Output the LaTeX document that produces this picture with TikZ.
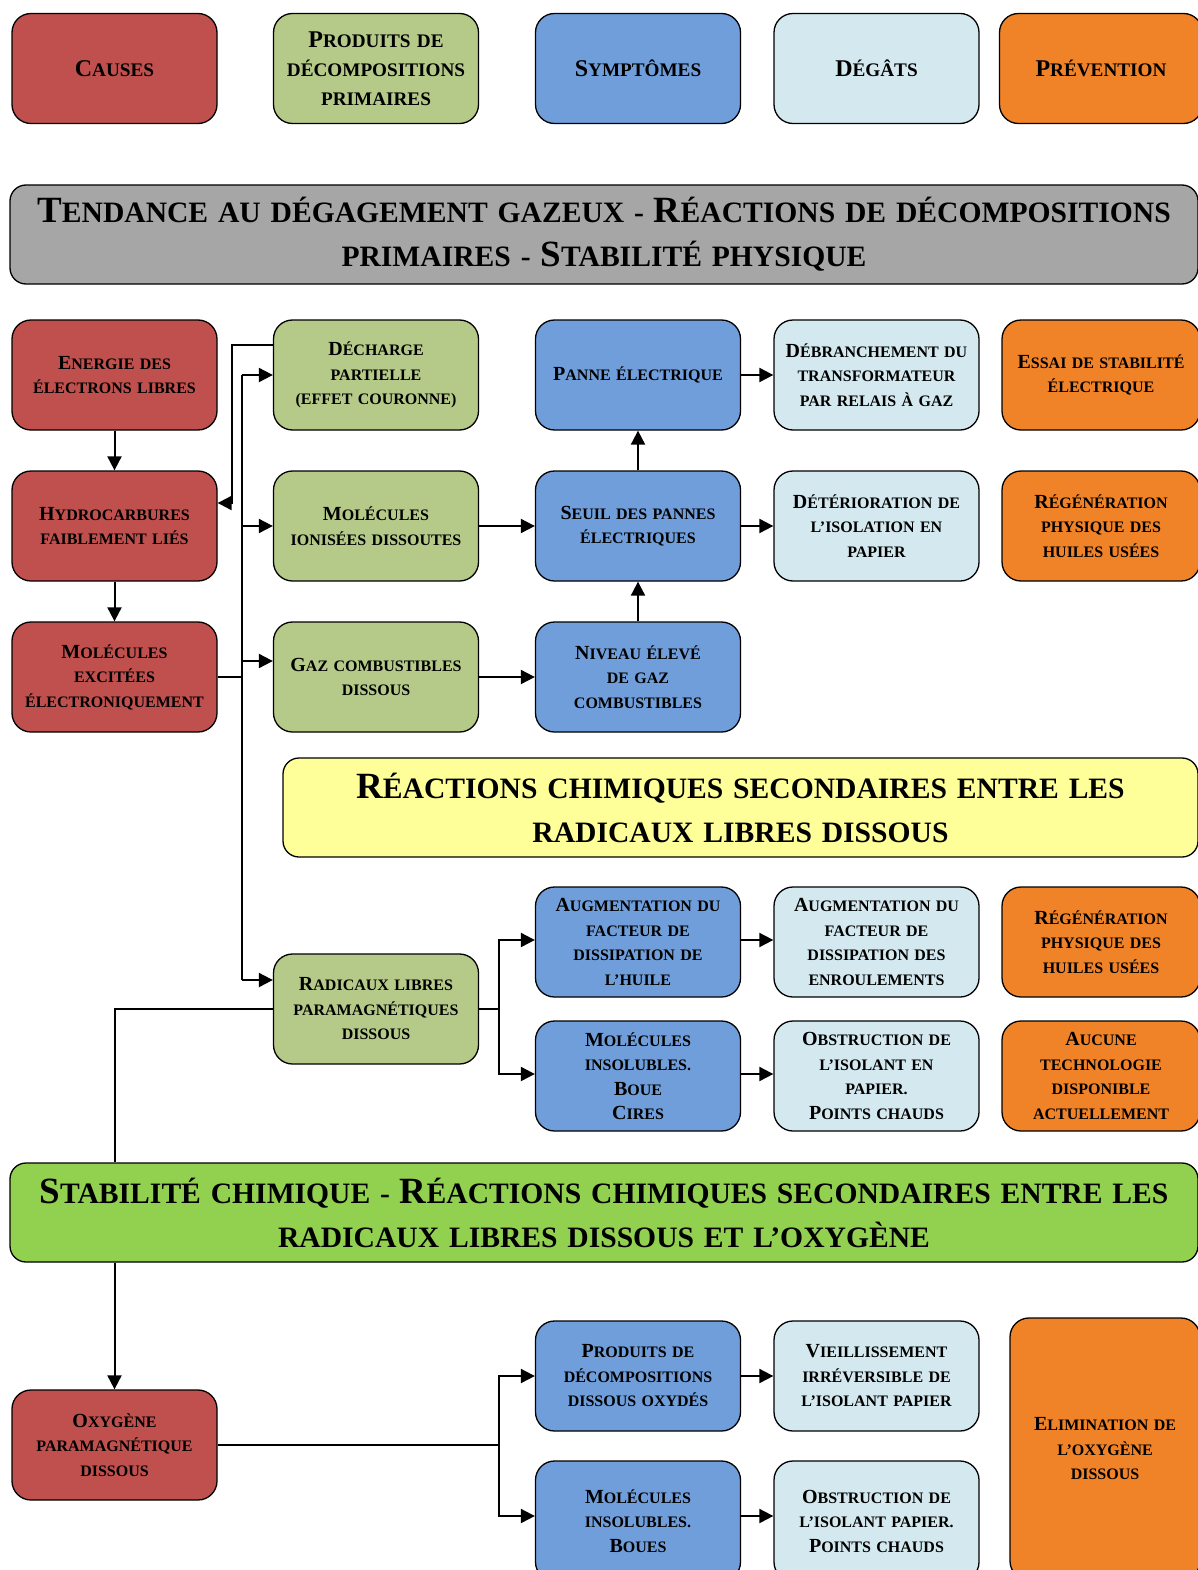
\documentclass[tikz,border=0pt]{standalone}
\usepackage{fontspec}
\setmainfont{Liberation Serif}
\usetikzlibrary{arrows.meta}
\definecolor{cRed}{HTML}{C0504D}
\definecolor{cGreen}{HTML}{B5CA88}
\definecolor{cBlue}{HTML}{6F9EDA}
\definecolor{cLight}{HTML}{D3E9EF}
\definecolor{cOrange}{HTML}{F08228}
\definecolor{cGray}{HTML}{A6A6A6}
\definecolor{cYellow}{HTML}{FFFF99}
\definecolor{cLime}{HTML}{92D050}
\newcommand\setsc[3]{\def\capsz{#1}\def\lsk{#3}\fontsize{#2}{#3}\selectfont}
\newcommand\K[1]{{\fontsize{\capsz}{\lsk}\selectfont #1}}
\tikzset{
  box/.style={draw=black, line width=1.3pt, rounded corners=19pt, align=center,
    inner sep=2pt, minimum width=205pt, minimum height=110pt, text width=199pt,
    font=\bfseries\setsc{20}{16}{24.5}},
  headbox/.style={box, font=\bfseries\setsc{24}{19.2}{29}},
  banner/.style={draw=black, line width=1.3pt, rounded corners=16pt, align=center,
    inner sep=2pt, minimum height=99pt, font=\bfseries\setsc{37}{29.6}{44}},
  conn/.style={line width=2pt, black},
  arr/.style={conn, -{Triangle[length=14pt,width=14pt]}}
}
\begin{document}
\begin{tikzpicture}[x=1pt,y=-1pt]
\useasboundingbox (0,0) rectangle (1198,1570);
% header row
\node[headbox, fill=cRed] (hC) at (114.5,68.5) {\K{C}AUSES};
\node[headbox, fill=cGreen] (hP) at (376,68.5) {\K{P}RODUITS DE\\DÉCOMPOSITIONS\\PRIMAIRES};
\node[headbox, fill=cBlue] (hS) at (638,68.5) {\K{S}YMPTÔMES};
\node[headbox, fill=cLight] (hD) at (876.5,68.5) {\K{D}ÉGÂTS};
\node[headbox, fill=cOrange, minimum width=198pt] (hV) at (1101,68.5) {\K{P}RÉVENTION};
% gray banner
\node[banner, fill=cGray, minimum width=1188pt, text width=1180pt] (GR) at (604,234.5)
  {\K{T}ENDANCE AU DÉGAGEMENT GAZEUX - \K{R}ÉACTIONS DE DÉCOMPOSITIONS\\PRIMAIRES - \K{S}TABILITÉ PHYSIQUE};
% row 1
\node[box, fill=cRed] (E) at (114.5,375) {\K{E}NERGIE DES\\ÉLECTRONS LIBRES};
\node[box, fill=cGreen] (DP) at (376,375) {\K{D}ÉCHARGE\\PARTIELLE\\(EFFET COURONNE)};
\node[box, fill=cBlue] (PE) at (638,375) {\K{P}ANNE ÉLECTRIQUE};
\node[box, fill=cLight] (DB) at (876.5,375) {\K{D}ÉBRANCHEMENT DU\\TRANSFORMATEUR\\PAR RELAIS À GAZ};
\node[box, fill=cOrange, minimum width=198pt, text width=192pt] (ES) at (1101,375) {\K{E}SSAI DE STABILITÉ\\ÉLECTRIQUE};
% row 2
\node[box, fill=cRed] (H) at (114.5,526) {\K{H}YDROCARBURES\\FAIBLEMENT LIÉS};
\node[box, fill=cGreen] (MI) at (376,526) {\K{M}OLÉCULES\\IONISÉES DISSOUTES};
\node[box, fill=cBlue] (SE) at (638,526) {\K{S}EUIL DES PANNES\\ÉLECTRIQUES};
\node[box, fill=cLight] (DT) at (876.5,526) {\K{D}ÉTÉRIORATION DE\\L’ISOLATION EN\\PAPIER};
\node[box, fill=cOrange, minimum width=198pt, text width=192pt] (RG1) at (1101,526) {\K{R}ÉGÉNÉRATION\\PHYSIQUE DES\\HUILES USÉES};
% row 3
\node[box, fill=cRed] (MX) at (114.5,677) {\K{M}OLÉCULES\\EXCITÉES\\ÉLECTRONIQUEMENT};
\node[box, fill=cGreen] (GC) at (376,677) {\K{G}AZ COMBUSTIBLES\\DISSOUS};
\node[box, fill=cBlue] (NE) at (638,677) {\K{N}IVEAU ÉLEVÉ\\DE GAZ\\COMBUSTIBLES};
% yellow banner
\node[banner, fill=cYellow, minimum width=915pt, text width=905pt] (YB) at (740.5,807.5)
  {\K{R}ÉACTIONS CHIMIQUES SECONDAIRES ENTRE LES\\RADICAUX LIBRES DISSOUS};
% row 4
\node[box, fill=cBlue] (AH) at (638,942) {\K{A}UGMENTATION DU\\FACTEUR DE\\DISSIPATION DE\\L’HUILE};
\node[box, fill=cLight] (AF) at (876.5,942) {\K{A}UGMENTATION DU\\FACTEUR DE\\DISSIPATION DES\\ENROULEMENTS};
\node[box, fill=cOrange, minimum width=198pt, text width=192pt] (RG2) at (1101,942) {\K{R}ÉGÉNÉRATION\\PHYSIQUE DES\\HUILES USÉES};
\node[box, fill=cGreen] (RL) at (376,1009) {\K{R}ADICAUX LIBRES\\PARAMAGNÉTIQUES\\DISSOUS};
% row 5
\node[box, fill=cBlue] (MIB) at (638,1076) {\K{M}OLÉCULES\\INSOLUBLES.\\\K{B}OUE\\\K{C}IRES};
\node[box, fill=cLight] (OB) at (876.5,1076) {\K{O}BSTRUCTION DE\\L’ISOLANT EN\\PAPIER.\\\K{P}OINTS CHAUDS};
\node[box, fill=cOrange, minimum width=198pt, text width=192pt] (AU) at (1101,1076) {\K{A}UCUNE\\TECHNOLOGIE\\DISPONIBLE\\ACTUELLEMENT};
% green banner
\node[banner, fill=cLime, minimum width=1188pt, text width=1180pt] (GB) at (604,1212.5)
  {\K{S}TABILITÉ CHIMIQUE - \K{R}ÉACTIONS CHIMIQUES SECONDAIRES ENTRE LES\\RADICAUX LIBRES DISSOUS ET L’OXYGÈNE};
% bottom
\node[box, fill=cBlue] (PO) at (638,1376) {\K{P}RODUITS DE\\DÉCOMPOSITIONS\\DISSOUS OXYDÉS};
\node[box, fill=cLight] (VI) at (876.5,1376) {\K{V}IEILLISSEMENT\\IRRÉVERSIBLE DE\\L’ISOLANT PAPIER};
\node[box, fill=cRed] (OX) at (114.5,1445) {\K{O}XYGÈNE\\PARAMAGNÉTIQUE\\DISSOUS};
\node[box, fill=cBlue, minimum height=120pt] (MB) at (638,1521) {\K{M}OLÉCULES\\INSOLUBLES.\\\K{B}OUES};
\node[box, fill=cLight, minimum height=120pt] (OB2) at (876.5,1521) {\K{O}BSTRUCTION DE\\L’ISOLANT PAPIER.\\\K{P}OINTS CHAUDS};
\node[box, fill=cOrange, minimum width=190pt, text width=184pt, minimum height=262pt] (EL) at (1105,1449) {\K{E}LIMINATION DE\\L’OXYGÈNE\\DISSOUS};
% connectors
\draw[arr] (E.south) -- (H.north);
\draw[arr] (H.south) -- (MX.north);
\draw[arr] ([yshift=30pt]DP.west) -- ++(-41,0) |- ([yshift=23pt]H.east);
\coordinate (busTop) at (242,375);
\coordinate (busBot) at (242,980);
\draw[conn] (busTop) -- (busBot);
\draw[conn] (MX.east) -- (MX.east -| busTop);
\draw[arr] (busTop) -- (DP.west);
\draw[arr] (MI.west -| busTop) -- (MI.west);
\draw[arr] ([yshift=16pt]GC.west -| busTop) -- ([yshift=16pt]GC.west);
\draw[arr] (busBot) -- (busBot -| RL.west);
\draw[arr] (MI.east) -- (SE.west);
\draw[arr] (GC.east) -- (NE.west);
\draw[arr] (NE.north) -- (SE.south);
\draw[arr] (SE.north) -- (PE.south);
\draw[arr] (PE.east) -- (DB.west);
\draw[arr] (SE.east) -- (DT.west);
\draw[conn] (RL.east) -- ++(20,0) coordinate (sp1);
\draw[arr] (sp1) |- ([yshift=2pt]AH.west);
\draw[arr] (sp1) |- ([yshift=2pt]MIB.west);
\draw[arr] ([yshift=2pt]AH.east) -- ([yshift=2pt]AF.west);
\draw[arr] ([yshift=2pt]MIB.east) -- ([yshift=2pt]OB.west);
\draw[conn] (RL.west) -| (E.south |- GB.north);
\draw[arr] (E.south |- GB.south) -- (OX.north);
\draw[conn] (OX.east) -- (OX.east -| sp1) coordinate (sp2);
\draw[arr] (sp2) |- (PO.west);
\draw[arr] (sp2) |- ([yshift=5pt]MB.west);
\draw[arr] (PO.east) -- (VI.west);
\draw[arr] ([yshift=5pt]MB.east) -- ([yshift=5pt]OB2.west);
\end{tikzpicture}
\end{document}
